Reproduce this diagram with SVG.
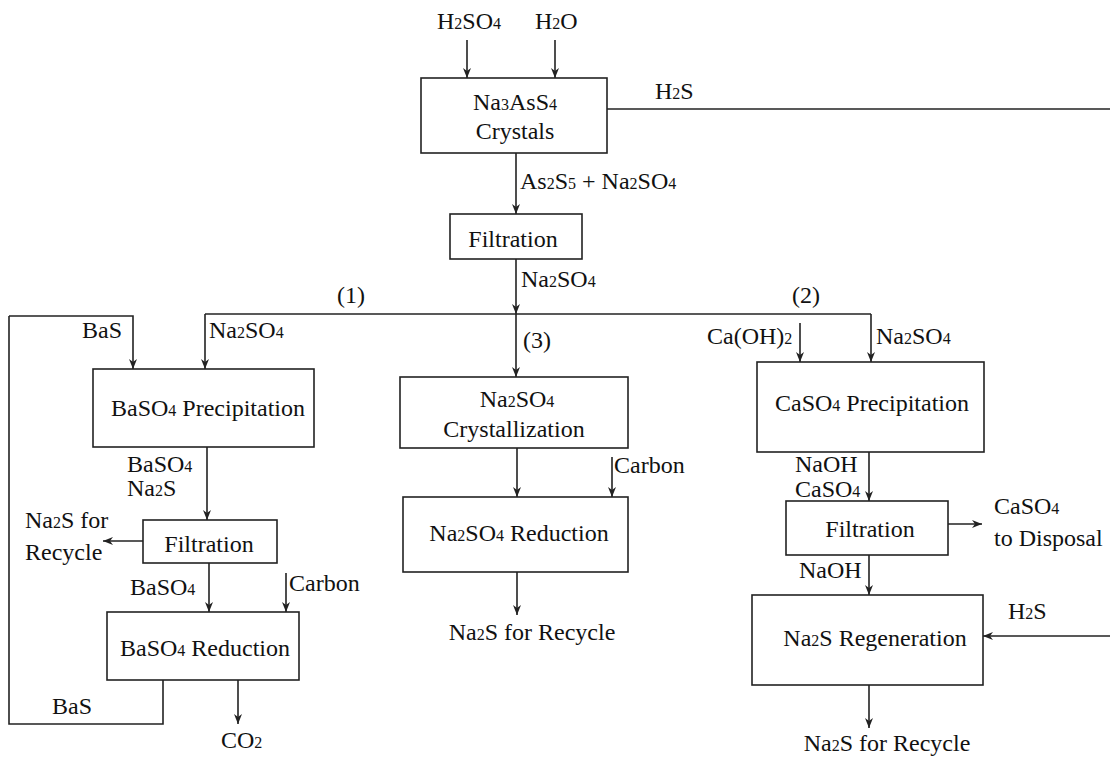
<svg xmlns="http://www.w3.org/2000/svg" width="1110" height="757" viewBox="0 0 1110 757" font-family="'Liberation Serif', Tinos, 'DejaVu Serif', serif">
<defs>
<style>
text{font-family:'Liberation Serif', Tinos, 'DejaVu Serif', serif;font-size:24px;fill:#111}
.c{text-anchor:middle}
.s{font-size:16px}
.box{fill:#fff;stroke:#222;stroke-width:1.6}
.ln{fill:none;stroke:#222;stroke-width:1.6}
.ar{fill:none;stroke:#222;stroke-width:1.6;marker-end:url(#ah)}
</style>
<marker id="ah" markerUnits="userSpaceOnUse" markerWidth="10" markerHeight="10" refX="10" refY="5" orient="auto">
<path d="M0,1 L10,5 L0,9 L3,5 z" fill="#222"/>
</marker>
</defs>
<rect width="1110" height="757" fill="#fff"/>
<g id="connectors">
<path class="ar" d="M467,40 V78"/>
<path class="ar" d="M555,40 V78"/>
<path class="ln" d="M607,109 H1110"/>
<path class="ar" d="M516,153 V214"/>
<path class="ar" d="M516,259 V314"/>
<path class="ln" d="M205,314 H871"/>
<path class="ar" d="M205,314 V369"/>
<path class="ar" d="M871,314 V362"/>
<path class="ar" d="M516,314 V377"/>
<path class="ar" d="M9,316 H133 V369"/>
<path class="ln" d="M163,680 V724 H9 V316"/>
<path class="ar" d="M207,447 V520"/>
<path class="ar" d="M143,541 H103"/>
<path class="ar" d="M209,563 V612"/>
<path class="ar" d="M286,573 V612"/>
<path class="ar" d="M238,680 V724"/>
<path class="ar" d="M517,448 V497"/>
<path class="ar" d="M612,457 V497"/>
<path class="ar" d="M517,572 V615"/>
<path class="ar" d="M800,323 V362"/>
<path class="ar" d="M869,452 V501"/>
<path class="ar" d="M948,524 H982"/>
<path class="ar" d="M869,555 V595"/>
<path class="ar" d="M1110,636 H983"/>
<path class="ar" d="M869,685 V728"/>
</g>
<g id="labels">
<text x="437" y="29">H<tspan class="s">2</tspan>SO<tspan class="s">4</tspan></text>
<text x="535" y="29">H<tspan class="s">2</tspan>O</text>
<text x="655" y="99">H<tspan class="s">2</tspan>S</text>
<text x="520" y="189">As<tspan class="s">2</tspan>S<tspan class="s">5</tspan> + Na<tspan class="s">2</tspan>SO<tspan class="s">4</tspan></text>
<text x="521" y="287">Na<tspan class="s">2</tspan>SO<tspan class="s">4</tspan></text>
<text x="337" y="303">(1)</text>
<text x="792" y="303">(2)</text>
<text x="523" y="348">(3)</text>
<text x="82" y="338">BaS</text>
<text x="209" y="338">Na<tspan class="s">2</tspan>SO<tspan class="s">4</tspan></text>
<text x="127" y="472">BaSO<tspan class="s">4</tspan></text>
<text x="127" y="496">Na<tspan class="s">2</tspan>S</text>
<text x="25" y="528">Na<tspan class="s">2</tspan>S for</text>
<text x="25" y="560">Recycle</text>
<text x="130" y="595">BaSO<tspan class="s">4</tspan></text>
<text x="289" y="591">Carbon</text>
<text x="52" y="714">BaS</text>
<text x="221" y="748">CO<tspan class="s">2</tspan></text>
<text x="614" y="473">Carbon</text>
<text x="532" y="640" class="c">Na<tspan class="s">2</tspan>S for Recycle</text>
<text x="707" y="344">Ca(OH)<tspan class="s">2</tspan></text>
<text x="876" y="344">Na<tspan class="s">2</tspan>SO<tspan class="s">4</tspan></text>
<text x="795" y="472">NaOH</text>
<text x="795" y="497">CaSO<tspan class="s">4</tspan></text>
<text x="994" y="514">CaSO<tspan class="s">4</tspan></text>
<text x="994" y="546">to Disposal</text>
<text x="799" y="578">NaOH</text>
<text x="1008" y="619">H<tspan class="s">2</tspan>S</text>
<text x="887" y="751" class="c">Na<tspan class="s">2</tspan>S for Recycle</text>
</g>
<g id="n-crystals">
<rect class="box" x="421" y="78" width="186" height="75"/>
<text x="515" y="110" class="c">Na<tspan class="s">3</tspan>AsS<tspan class="s">4</tspan></text>
<text x="515" y="139" class="c">Crystals</text>
</g>
<g id="n-filtration-top">
<rect class="box" x="450" y="214" width="132" height="45"/>
<text x="513" y="247" class="c">Filtration</text>
</g>
<g id="n-baso4-precip">
<rect class="box" x="93" y="369" width="221" height="78"/>
<text x="208" y="416" class="c">BaSO<tspan class="s">4</tspan> Precipitation</text>
</g>
<g id="n-filtration-left">
<rect class="box" x="143" y="520" width="134" height="43"/>
<text x="209" y="552" class="c">Filtration</text>
</g>
<g id="n-baso4-red">
<rect class="box" x="107" y="612" width="192" height="68"/>
<text x="205" y="656" class="c">BaSO<tspan class="s">4</tspan> Reduction</text>
</g>
<g id="n-na2so4-cryst">
<rect class="box" x="400" y="377" width="228" height="71"/>
<text x="517" y="407" class="c">Na<tspan class="s">2</tspan>SO<tspan class="s">4</tspan></text>
<text x="514" y="437" class="c">Crystallization</text>
</g>
<g id="n-na2so4-red">
<rect class="box" x="403" y="497" width="225" height="75"/>
<text x="519" y="541" class="c">Na<tspan class="s">2</tspan>SO<tspan class="s">4</tspan> Reduction</text>
</g>
<g id="n-caso4-precip">
<rect class="box" x="757" y="362" width="227" height="90"/>
<text x="872" y="411" class="c">CaSO<tspan class="s">4</tspan> Precipitation</text>
</g>
<g id="n-filtration-right">
<rect class="box" x="786" y="501" width="162" height="54"/>
<text x="870" y="537" class="c">Filtration</text>
</g>
<g id="n-na2s-regen">
<rect class="box" x="752" y="595" width="231" height="90"/>
<text x="875" y="646" class="c">Na<tspan class="s">2</tspan>S Regeneration</text>
</g>
</svg>
